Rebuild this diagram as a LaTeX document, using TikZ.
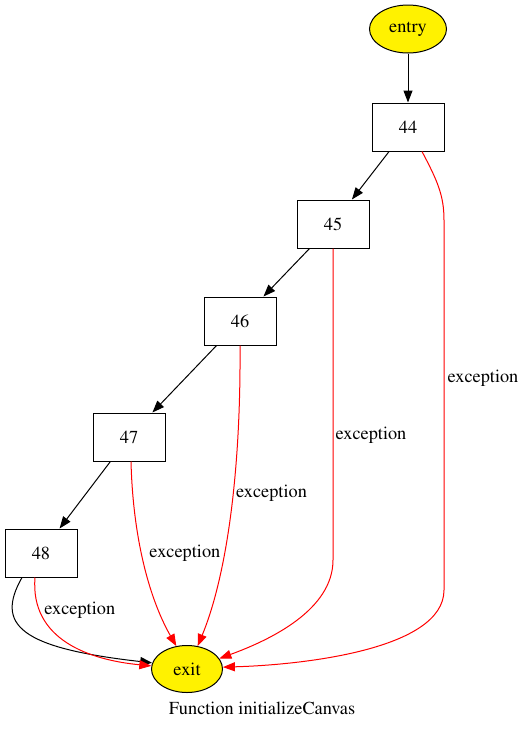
\documentclass[tikz,border=0pt]{standalone}
\usepackage[T1]{fontenc}
\usepackage{mathptmx}
\usetikzlibrary{arrows.meta,shapes.geometric}
\begin{document}
\begin{tikzpicture}[
                x=1pt,y=-1pt,
                every path/.append style={black,line width=1pt},
                every node/.append style={black,font=\rmfamily\fontsize{18.3}{22}\selectfont},
                stmt/.style={draw,rectangle,minimum width=72pt,minimum height=48pt,inner sep=0pt},
                term/.style={draw,ellipse,fill=yellow,inner sep=0pt},
                flow/.style={-{Triangle[length=12pt,width=9pt]}},
                exc/.style={red,-{Triangle[length=12pt,width=9pt]}},
                exclabel/.style={anchor=west,inner sep=1pt}
            ]
                \useasboundingbox (0,0) rectangle (523,729);
                \node[term,minimum width=77pt,minimum height=48pt] (entry) at (408,29) {entry};
                \node[stmt] (n44) at (408,127) {44};
                \node[stmt] (n45) at (333,224) {45};
                \node[stmt] (n46) at (240,321) {46};
                \node[stmt] (n47) at (129,437) {47};
                \node[stmt] (n48) at (41,553) {48};
                \node[term,minimum width=71pt,minimum height=47pt] (exit) at (187,669) {exit};
                \node (caption) at (262,708) {Function initializeCanvas};
                % normal flow
                \draw[flow] (entry) -- (n44);
                \draw[flow] (n44) -- (n45);
                \draw[flow] (n45) -- (n46);
                \draw[flow] (n46) -- (n47);
                \draw[flow] (n47) -- (n48);
                \draw[flow] ([xshift=-19pt]n48.south) .. controls (-5,625) and (20,648) .. (exit.170);
                % exception edges
                \draw[exc] ([xshift=-6pt]n48.south) .. controls (30,640) and (90,660) .. node[pos=0.2,exclabel,xshift=3.5pt]{exception} (exit.175);
                \draw[exc] ([xshift=2pt]n47.south) .. controls (133,540) and (150,600) .. node[pos=0.43,exclabel,xshift=6.5pt]{exception} (exit.115);
                \draw[exc] (n46.south) .. controls (241,480) and (225,580) .. node[pos=0.41,exclabel,xshift=1.5pt]{exception} (exit.65);
                \draw[exc] (n45.south) -- node[pos=0.6,exclabel,xshift=1pt]{exception} (333,560) .. controls (333,610) and (270,640) .. (exit.18);
                \draw[exc] ([xshift=14pt]n44.south) .. controls (437,180) and (444,195) .. (444,220) -- node[pos=0.427,exclabel,xshift=2pt]{exception} (444,590) .. controls (444,650) and (300,665) .. (exit.3);
            \end{tikzpicture}
\end{document}
